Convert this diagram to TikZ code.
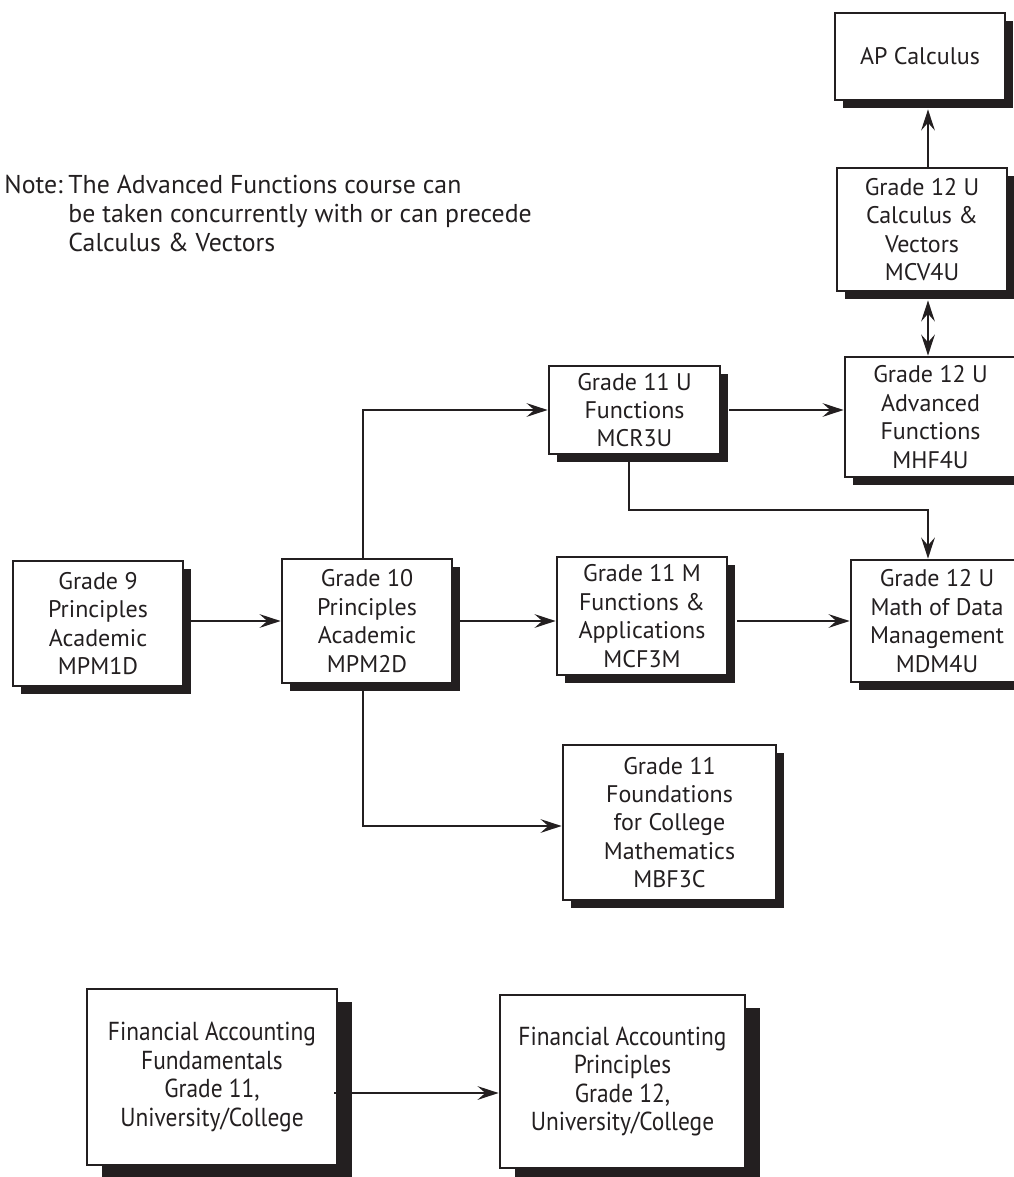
\documentclass[tikz,border=0pt]{standalone}
\usepackage{fontspec}
\setmainfont{PT Sans}
\newfontfamily\narrowfont[FakeStretch=0.9]{PT Sans}
\usetikzlibrary{arrows.meta,shadows,calc}
\definecolor{ink}{RGB}{35,31,32}
\tikzset{
  framebox/.style={draw=ink, line width=1.35pt, fill=white, align=center,
    inner sep=0pt, text=ink},
  course/.style={framebox, font=\fontsize{12}{14.2}\selectfont,
    drop shadow={shadow xshift=4pt, shadow yshift=-3.8pt, fill=ink, opacity=1}},
  widecourse/.style={framebox, font=\narrowfont\fontsize{13}{14.3}\selectfont,
    drop shadow={shadow xshift=7.5pt, shadow yshift=-6.5pt, fill=ink, opacity=1}},
  tip/.tip={Stealth[length=10.5pt,width=6.8pt,inset=3.8pt]},
  flow/.style={draw=ink, line width=1.3pt, -tip},
  twoway/.style={draw=ink, line width=1.3pt, tip-tip},
}
\begin{document}
\begin{tikzpicture}[x=0.5pt,y=-0.5pt]
\useasboundingbox (0,0) rectangle (1013,1177);

% note
\node[anchor=base west, inner sep=0pt, text=ink, font=\fontsize{12.9}{14.6}\selectfont] (note) at (4,193)
  {\begin{tabular}[t]{@{}l@{\hspace{2.8pt}}l@{}}
   Note: & The Advanced Functions course can\\
         & be taken concurrently with or can precede\\
         & Calculus \& Vectors
   \end{tabular}};

% courses
\node[course, minimum width=85pt, minimum height=43.5pt] (ap) at (920,56.5) {AP Calculus};
\node[course, minimum width=85pt, minimum height=61.5pt] (mcv) at (922,229.5) {Grade 12 U\\Calculus \&\\Vectors\\MCV4U};
\node[course, minimum width=85.5pt, minimum height=60pt] (mhf) at (930.5,417) {Grade 12 U\\Advanced\\Functions\\MHF4U};
\node[course, minimum width=85.5pt, minimum height=44pt] (mcr) at (634.5,410) {Grade 11 U\\Functions\\MCR3U};
\node[course, minimum width=86pt, minimum height=61pt] (mdm) at (937,621) {Grade 12 U\\Math of Data\\Management\\MDM4U};
\node[course, minimum width=85pt, minimum height=62.5pt] (g9) at (98,623.5) {Grade 9\\Principles\\Academic\\MPM1D};
\node[course, minimum width=85pt, minimum height=62pt] (g10) at (367,621) {Grade 10\\Principles\\Academic\\MPM2D};
\node[course, minimum width=85pt, minimum height=59pt] (mcf) at (642,616) {Grade 11 M\\Functions \&\\Applications\\MCF3M};
\node[course, minimum width=106.5pt, minimum height=77.5pt] (mbf) at (669.5,822.5) {Grade 11\\Foundations\\for College\\Mathematics\\MBF3C};
\node[widecourse, minimum width=125pt, minimum height=88pt] (fund) at (212,1077)
  {Financial Accounting\\Fundamentals\\Grade 11,\\University/College};
\node[widecourse, minimum width=122.5pt, minimum height=86.5pt] (prin) at (622.5,1081.5)
  {Financial Accounting\\Principles\\Grade 12,\\University/College};

% guide coordinates for the connector routes
\coordinate (xr) at (928,0);
\coordinate (xg) at (363,0);
\coordinate (bend) at (629,510);
\coordinate (yb) at (0,826);
\coordinate (yf) at (0,1093);

% connectors
\draw[flow] (mcv.north -| xr) -- ($(ap.south -| xr)+(0,8)$);
\draw[twoway] ($(mcv.south -| xr)+(0,8)$) -- (mhf.north -| xr);
\draw[flow] ($(mcr.east)+(8,0)$) -- (mhf.west |- mcr.east);
\draw[flow] (mcr.south -| bend) -- (bend) -- (bend -| xr) -- (mdm.north -| xr);
\draw[flow] (g10.west -| g9.east) -- (g10.west);
\draw[flow] (g10.east) -- (mcf.west |- g10.east);
\draw[flow] ($(mcf.east |- mdm.west)+(9,0)$) -- (mdm.west);
\draw[flow] (g10.north -| xg) -- (xg |- mcr.west) -- (mcr.west);
\draw[flow] (g10.south -| xg) -- (xg |- yb) -- (mbf.west |- yb);
\draw[flow] ($(fund.east |- yf)+(-4,0)$) -- (prin.west |- yf);
\end{tikzpicture}
\end{document}
